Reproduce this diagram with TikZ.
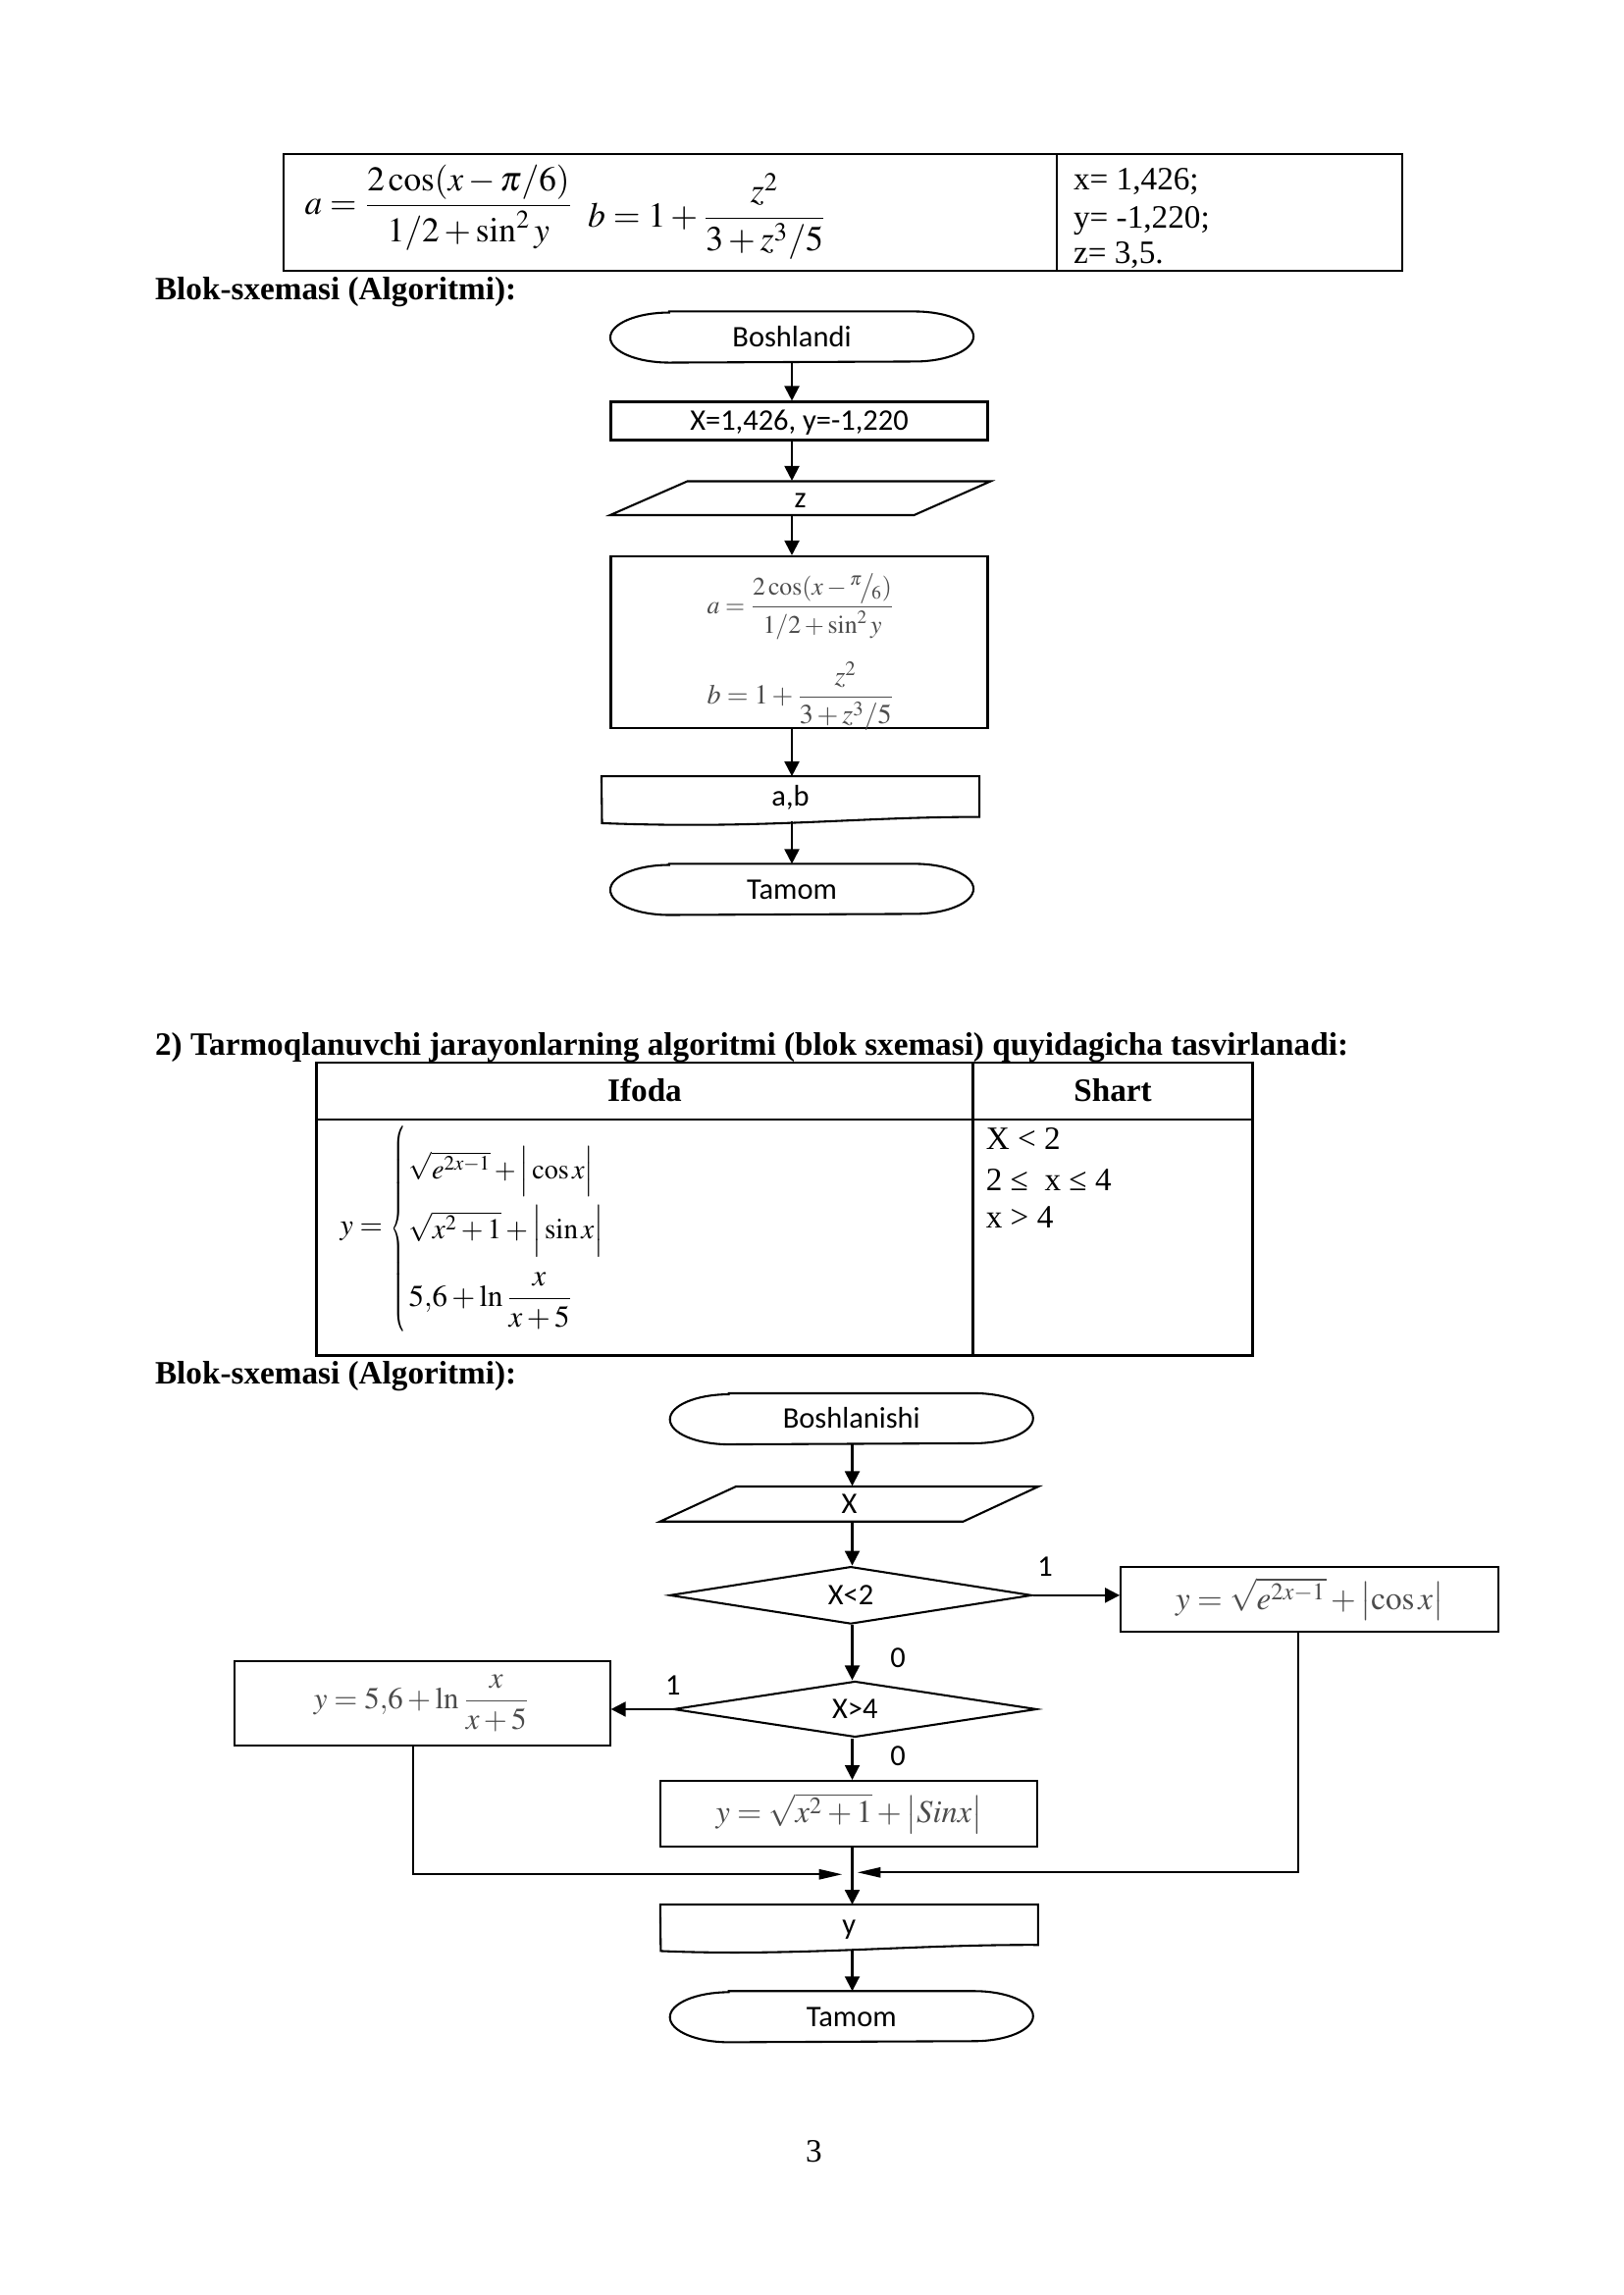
\documentclass[tikz,border=0pt]{standalone}
\usepackage{amsmath}
\usepackage{mathptmx}
\usepackage[no-math]{fontspec}
\setmainfont{Liberation Serif}
\newfontfamily\calibri{Carlito}
\usepackage{graphicx}
\usetikzlibrary{arrows.meta,shapes.geometric}
\newlength\pxu
\setlength\pxu{0.190446mm}
\definecolor{fgray}{gray}{0.3}
\newcommand\termoutline[1]{%
  \draw[fl] ([xshift=40*\pxu]#1.north west) -- ([xshift=-40*\pxu]#1.north east)
    arc[start angle=90,end angle=-90,x radius=40*\pxu,y radius=17*\pxu]
    -- ([xshift=40*\pxu]#1.south west)
    arc[start angle=270,end angle=90,x radius=40*\pxu,y radius=17*\pxu] -- cycle;}
\tikzset{
  fl/.style={line width=0.75pt},
  arr/.style={fl,-{Triangle[length=1.9mm,width=1.9mm]}},
  arrl/.style={fl,-{Triangle[length=3mm,width=1.3mm]}},
  tb/.style={line width=0.9pt},
  txt/.style={inner sep=0pt,font=\fontsize{12}{14.4}\selectfont},
  btxt/.style={inner sep=0pt,font=\fontsize{12}{14.4}\selectfont\bfseries},
  ft/.style={font=\calibri\fontsize{11}{13}\selectfont,text height=7.1pt,text depth=0pt,inner sep=0pt},
  boxn/.style={ft,draw,fl,rectangle},
  termn/.style={ft,rectangle,minimum width=246*\pxu,minimum height=34*\pxu},
  dia/.style={ft,diamond,draw,fl,aspect=6,inner sep=0pt},
  fbox/.style={draw,fl,rectangle,inner sep=0pt,text=fgray},
  mth/.style={inner sep=0pt,font=\fontsize{14}{16.8}\selectfont}
}
\begin{document}
\begin{tikzpicture}[x=0.190446mm,y=-0.190446mm]
\fill[white] (0,0) rectangle (1102.67,1559.33);
\useasboundingbox (0,0) rectangle (1102.67,1559.33);

% ---------- top table ----------
\draw[tb] (192.7,104.7) rectangle (952.7,184);
\draw[tb] (718,104.7) -- (718,184);
\node[mth,anchor=west] (fa) at (206.7,141) {\resizebox{182\pxu}{!}{$\displaystyle a=\frac{2\cos(x-\pi/6)}{1/2+\sin^2 y}$}};
\node[mth,anchor=west] (fb) at (399,147) {\resizebox{162\pxu}{!}{$\displaystyle b=1+\frac{z^2}{3+z^3/5}$}};
\node[txt,anchor=base west] (xv) at (729,129) {x= 1,426;};
\node[txt,anchor=base west] (yv) at (729,155) {y= -1,220;};
\node[txt,anchor=base west] (zv) at (729,179) {z= 3,5.};
\node[btxt,anchor=base west] (h1) at (105,204) {Blok-sxemasi (Algoritmi):};

% ---------- flowchart 1 ----------
\coordinate (c1) at (538,0);
\node[termn] (b1) at (538,229) {Boshlandi};
\termoutline{b1}
\node[boxn,minimum width=256*\pxu,minimum height=26*\pxu] (r1) at (543,286) {X=1,426, y=-1,220};
\node[ft,minimum height=23*\pxu] (p1) at (543.75,338.5) {z};
\draw[fl] (467,327) -- (673,327) -- (621,350) -- (414.5,350) -- cycle;
\node[fbox,minimum width=256*\pxu,minimum height=116.4*\pxu] (f1) at (543,436.2) {};
\node[mth,anchor=west,text=fgray] (f1a) at (480,412) {\resizebox{127\pxu}{!}{$\displaystyle a=\frac{2\cos(x-{}^{\pi}\!\big/\!_{6})}{1/2+\sin^2 y}$}};
\node[mth,anchor=west,text=fgray] (f1b) at (480,473) {\resizebox{127\pxu}{!}{$\displaystyle b=1+\frac{z^2}{3+z^3/5}$}};
\node[ft,minimum width=256*\pxu,minimum height=26.9*\pxu] (o1) at (537,541.25) {a,b};
\draw[fl] (o1.north west) -- (o1.north east) -- (o1.south east)
   .. controls (580,555) and (520,563.5) .. (409,559.3) -- cycle;
\coordinate (o1w) at (538,558);
\node[termn] (t1) at (538,604.3) {Tamom};
\termoutline{t1}
\draw[arr] (b1.south) -- (b1.south |- r1.north);
\draw[arr] (r1.south -| c1) -- (p1.north -| c1);
\draw[arr] (p1.south -| c1) -- (f1.north -| c1);
\draw[arr] (f1.south -| c1) -- (o1.north -| c1);
\draw[arr] (o1w) -- (t1.north);

% ---------- section 2 ----------
\node[btxt,anchor=base west] (h2) at (105,717) {2) Tarmoqlanuvchi jarayonlarning algoritmi (blok sxemasi) quyidagicha tasvirlanadi:};
\draw[tb] (215,722) rectangle (851,921);
\draw[tb] (661,722) -- (661,921);
\draw[tb] (215,760.5) -- (851,760.5);
\node[btxt,anchor=base] (ifoda) at (438,748.4) {Ifoda};
\node[btxt,anchor=base] (shart) at (756,748.4) {Shart};
\node[mth,anchor=west] (yeq) at (230.7,837) {\resizebox{29\pxu}{!}{$y=$}};
\node[mth] (brace) at (271.5,835.5) {\scalebox{0.45}[1]{$\left\{\rule[-35pt]{0pt}{70pt}\right.$}};
\node[mth,anchor=west] (row1) at (277.4,796) {\resizebox{125.6\pxu}{!}{$\sqrt{e^{2x-1}}+\left|\vphantom{\sqrt{e^{2x-1}}}\cos x\right|$}};
\node[mth,anchor=west] (row2) at (277.4,836.5) {\resizebox{132.3\pxu}{!}{$\sqrt{x^2+1}+\left|\vphantom{\sqrt{x^2}}\sin x\right|$}};
\node[mth,anchor=west] (row3) at (277.4,884) {\resizebox{111\pxu}{!}{$5{,}6+\ln\dfrac{x}{x+5}$}};
\node[txt,anchor=base west] (s1) at (669.5,781) {X < 2};
\node[txt,anchor=base west] (s2) at (669.5,809) {2 ≤ \ x ≤ 4};
\node[txt,anchor=base west] (s3) at (669.5,834.5) {x > 4};
\node[btxt,anchor=base west] (h3) at (105,940) {Blok-sxemasi (Algoritmi):};

% ---------- flowchart 2 ----------
\coordinate (c2) at (579,0);
\node[termn] (b2) at (578.5,964) {Boshlanishi};
\termoutline{b2}
\node[ft,minimum height=23.8*\pxu] (p2) at (577,1021.9) {X};
\draw[fl] (500,1010) -- (705.5,1010) -- (654.4,1033.8) -- (448.4,1033.8) -- cycle;
\node[dia,minimum width=246*\pxu,minimum height=39*\pxu] (d1) at (578,1083.9) {X<2};
\node[fbox,minimum width=256.6*\pxu,minimum height=44.5*\pxu] (rb) at (889.7,1086.65) {\resizebox{182\pxu}{!}{$y=\sqrt{e^{2x-1}}+\bigl|\cos x\bigr|$}};
\node[dia,minimum width=247*\pxu,minimum height=38*\pxu] (d2) at (580.9,1161.3) {X>4};
\node[fbox,minimum width=255.3*\pxu,minimum height=57.8*\pxu] (lb) at (286.75,1157.3) {\resizebox{147\pxu}{!}{$y=5{,}6+\ln\dfrac{x}{x+5}$}};
\node[fbox,minimum width=256*\pxu,minimum height=44.4*\pxu] (sb) at (576.9,1232.2) {\resizebox{181\pxu}{!}{$y=\sqrt{x^2+1}+\bigl|Sinx\bigr|$}};
\node[ft,minimum width=256*\pxu,minimum height=26.7*\pxu] (o2) at (576.9,1307.75) {y};
\draw[fl] (o2.north west) -- (o2.north east) -- (o2.south east)
   .. controls (620,1321) and (540,1329.5) .. (448.9,1325.6) -- cycle;
\coordinate (o2w) at (579,1325);
\node[termn] (t2) at (578.5,1370.2) {Tamom};
\termoutline{t2}

\node[ft] (l1a) at (710,1064.4) {1};
\node[ft] (l0a) at (610,1126.7) {0};
\node[ft] (l1b) at (457.2,1144.9) {1};
\node[ft] (l0b) at (610,1193.3) {0};

\coordinate (lx) at (280.8,0);
\coordinate (rx) at (882,0);
\coordinate (ml) at (572.2,1273.5);
\coordinate (mr) at (582.5,1272.2);

\draw[arr] (b2.south -| c2) -- (p2.north -| c2);
\draw[arr] (p2.south -| c2) -- (d1.north -| c2);
\draw[arr] (d1.east) -- (d1.east -| rb.west);
\draw[arr] (d1.south -| c2) -- (d2.north -| c2);
\draw[arr] (d2.west) -- (d2.west -| lb.east);
\draw[arr] (d2.south -| c2) -- (sb.north -| c2);
\draw[arr] (sb.south -| c2) -- (o2.north -| c2);
\draw[arrl] (lb.south -| lx) |- (ml);
\draw[arrl] (rb.south -| rx) |- (mr);
\draw[arr] (o2w) -- (t2.north -| c2);

\node[txt,anchor=base] (pg) at (553,1469) {3};
\end{tikzpicture}
\end{document}
